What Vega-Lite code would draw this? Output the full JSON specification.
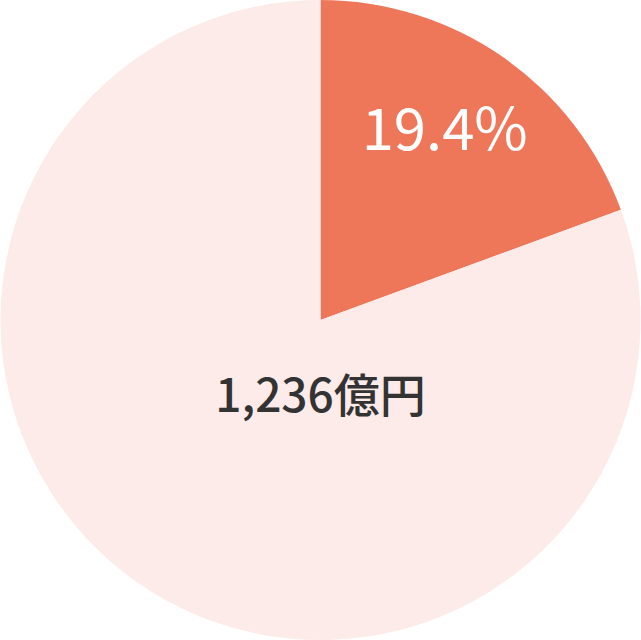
{
  "$schema": "https://vega.github.io/schema/vega-lite/v6.json",
  "width": 641,
  "height": 640,
  "autosize": {"type": "fit", "contains": "padding"},
  "padding": 0,
  "background": "white",
  "view": {"stroke": null},
  "data": {
    "values": [
      {"category": "share", "value": 19.4, "pct": "19.4%", "label": ""},
      {"category": "rest", "value": 80.6, "pct": "", "label": "1,236億円"}
    ]
  },
  "encoding": {
    "theta": {"field": "value", "type": "quantitative", "stack": true, "sort": null},
    "order": {"field": "value", "type": "quantitative", "sort": "ascending"}
  },
  "layer": [
    {
      "mark": {"type": "arc", "outerRadius": 320, "stroke": null},
      "encoding": {
        "color": {
          "field": "category",
          "type": "nominal",
          "scale": {"domain": ["share", "rest"], "range": ["#EE775A", "#FCEBE9"]},
          "legend": null
        }
      }
    },
    {
      "mark": {"type": "text", "radius": 224, "font": "Noto Sans CJK JP", "fontSize": 58, "fontWeight": 400, "letterSpacing": 2, "color": "white", "baseline": "middle", "align": "center", "dx": -4, "dy": -3},
      "encoding": {"text": {"field": "pct"}}
    },
    {
      "transform": [{"filter": "datum.label != ''"}],
      "mark": {"type": "text", "font": "Noto Sans CJK JP", "fontSize": 46, "fontWeight": 500, "color": "#333333", "baseline": "middle", "align": "center", "dy": 78},
      "encoding": {"text": {"field": "label"}, "theta": null, "order": null}
    }
  ]
}
